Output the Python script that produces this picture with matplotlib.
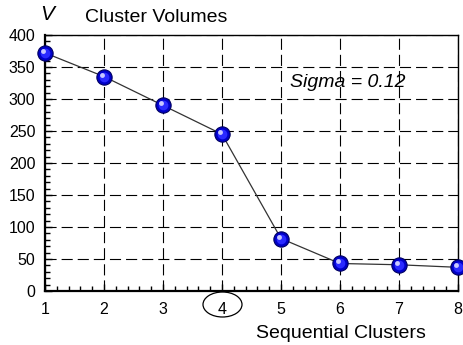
import matplotlib
matplotlib.use("Agg")
import matplotlib.pyplot as plt
from matplotlib.patches import Ellipse
from matplotlib.ticker import MultipleLocator
from matplotlib.transforms import ScaledTranslation

plt.rcParams["font.family"] = ["Liberation Sans", "DejaVu Sans"]

clusters = [1, 2, 3, 4, 5, 6, 7, 8]
volumes = [372, 335, 290, 245, 82, 43, 41, 37]
sigma_label = "Sigma = 0.12"

fig = plt.figure(figsize=(4.63, 3.45), dpi=100)
ax = fig.add_axes([0.0972, 0.1565, 0.8918, 0.7421])

ax.set_xlim(1, 8)
ax.set_ylim(0, 400)
ax.xaxis.set_major_locator(MultipleLocator(1))
ax.yaxis.set_major_locator(MultipleLocator(50))
ax.xaxis.set_minor_locator(MultipleLocator(0.2))
ax.yaxis.set_minor_locator(MultipleLocator(10))
ax.tick_params(which="both", direction="in", labelsize=11.5, top=False, right=False)
ax.tick_params(which="major", length=5, width=1)
ax.tick_params(axis="x", which="major", pad=8)
ax.tick_params(axis="y", which="major", pad=7)
ax.tick_params(which="minor", length=3.5, width=1)
ax.grid(True, which="major", color="black", ls=(0, (10, 4.5)), lw=0.8)

for side in ["left", "bottom"]:
    ax.spines[side].set_linewidth(1.6)
for side in ["top", "right"]:
    ax.spines[side].set_linewidth(1.0)

ax.plot(clusters, volumes, "-", color="#333333", lw=0.9, zorder=3)
# shaded sphere markers
ax.plot(clusters, volumes, "o", ms=11, mfc="#0000c8", mec="#000060", mew=0.8,
        zorder=4, clip_on=False)
ax.plot(clusters, volumes, "o", ms=7, mfc="#2a2aff", mec="none", zorder=5, clip_on=False)
shift = ax.transData + ScaledTranslation(-2 / 100, 2 / 100, fig.dpi_scale_trans)
ax.plot(clusters, volumes, "o", ms=3.5, mfc="#c8c8ff", mec="none", zorder=6,
        clip_on=False, transform=shift)

ax.text(5.15, 325, sigma_label, fontsize=14, style="italic", va="center", ha="left")

fig.text(40 / 463, 1 - 15 / 345, "V", fontsize=15, style="italic", va="center", ha="left")
fig.text(85 / 463, 1 - 17 / 345, "Cluster Volumes", fontsize=14, va="center", ha="left")
fig.text(341 / 463, 1 - 333 / 345, "Sequential Clusters", fontsize=14, va="center", ha="center")

fig.add_artist(Ellipse((222.5 / 463, 1 - 304.5 / 345), 39 / 463, 25 / 345,
                       transform=fig.transFigure, fill=False, ec="black", lw=0.9))

fig.savefig("out.png", dpi=100)
